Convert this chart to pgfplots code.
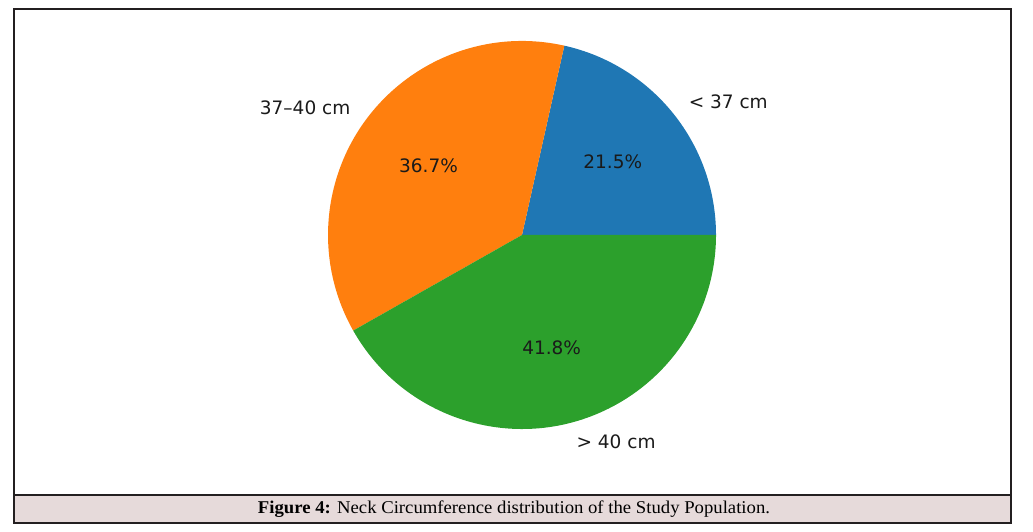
\documentclass[border=0pt]{standalone}
\usepackage{pgfplots}
\pgfplotsset{compat=1.18}
\usepackage{graphicx}
\usepackage{fontspec}
\setmainfont{DejaVu Sans}
\newfontfamily\capfont{Liberation Serif}
\definecolor{tabblue}{HTML}{1F77B4}
\definecolor{taborange}{HTML}{FF7F0E}
\definecolor{tabgreen}{HTML}{2CA02C}
\definecolor{capbg}{HTML}{E6DADA}
\definecolor{framec}{HTML}{231F20}
\definecolor{txt}{HTML}{1A1A1A}
% data (percent)
\def\vA{21.5}
\def\vB{36.7}
\def\vC{41.8}
\newcommand\lf{\fontsize{18.5bp}{22bp}\selectfont}
\begin{document}
\begin{tikzpicture}[x=1bp,y=1bp]
\useasboundingbox (0,0) rectangle (1033,532);
\fill[capbg] (14,9) rectangle (1011,37);
\draw[line width=1.2bp, framec] (14,9) rectangle (1011,523);
\draw[line width=1.2bp, framec] (14,37) -- (1011,37);
\node[inner sep=0] at (514,22.5) {\resizebox{512bp}{\height}{\capfont\fontsize{18bp}{20bp}\selectfont\textbf{Figure 4:} Neck Circumference distribution of the Study Population.}};
\pgfmathsetmacro{\aA}{0}
\pgfmathsetmacro{\aB}{360*\vA/100}
\pgfmathsetmacro{\aC}{\aB+360*\vB/100}
\pgfmathsetmacro{\aD}{360}
\pgfmathsetmacro{\mA}{(\aA+\aB)/2}
\pgfmathsetmacro{\mB}{(\aB+\aC)/2}
\pgfmathsetmacro{\mC}{(\aC+\aD)/2}
\begin{axis}[at={(522bp,297bp)}, anchor=origin, hide axis, x=194bp, y=194bp,
  xmin=-1.5, xmax=1.5, ymin=-1.2, ymax=1.2, clip=false]
\fill[tabblue] (axis cs:0,0) -- (axis cs:{cos(\aA)},{sin(\aA)}) arc[start angle=\aA, end angle=\aB, radius=194bp] -- cycle;
\fill[taborange] (axis cs:0,0) -- (axis cs:{cos(\aB)},{sin(\aB)}) arc[start angle=\aB, end angle=\aC, radius=194bp] -- cycle;
\fill[tabgreen] (axis cs:0,0) -- (axis cs:{cos(\aC)},{sin(\aC)}) arc[start angle=\aC, end angle=\aD, radius=194bp] -- cycle;
\node[inner sep=0, text=txt, font=\lf] at (axis cs:{0.6*cos(\mA)},{0.6*sin(\mA)}) {21.5\%};
\node[inner sep=0, text=txt, font=\lf] at (axis cs:{0.6*cos(\mB)},{0.6*sin(\mB)}) {36.7\%};
\node[inner sep=0, text=txt, font=\lf] at (axis cs:{0.6*cos(\mC)},{0.6*sin(\mC)}) {41.8\%};
\node[inner sep=0, text=txt, font=\lf, anchor=west] at (axis cs:{1.1*cos(\mA)},{1.1*sin(\mA)}) {< 37 cm};
\node[inner sep=0, text=txt, font=\lf, anchor=east] at (axis cs:{1.1*cos(\mB)},{1.1*sin(\mB)}) {37–40 cm};
\node[inner sep=0, text=txt, font=\lf, anchor=west] at (axis cs:{1.1*cos(\mC)},{1.1*sin(\mC)}) {> 40 cm};
\end{axis}
\end{tikzpicture}
\end{document}
